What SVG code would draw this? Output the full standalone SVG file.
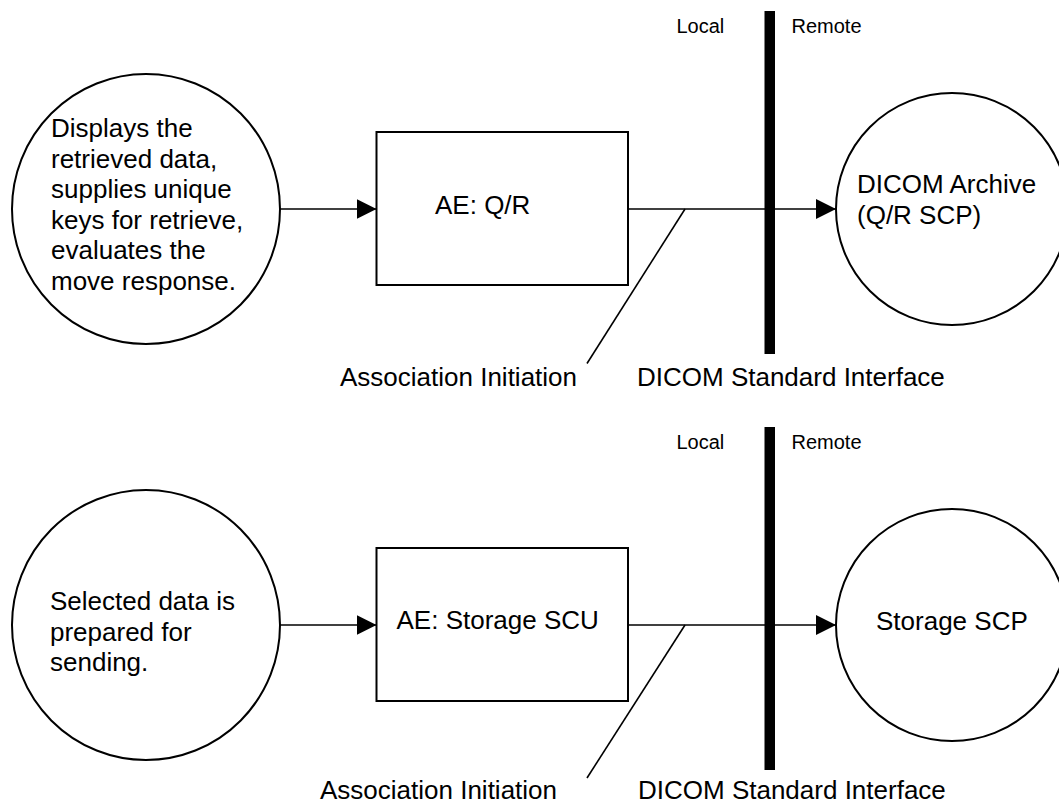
<svg xmlns="http://www.w3.org/2000/svg" width="1059" height="805" viewBox="0 0 1059 805">
  <style>
    .shape { fill: #ffffff; stroke: #000000; stroke-width: 2; }
    .conn { fill: none; stroke: #000000; stroke-width: 1.6; }
    .bar { fill: #000000; stroke: none; }
    .t { font-family: "Liberation Sans", Arial, sans-serif; font-size: 26px; fill: #000000; }
    .s { font-family: "Liberation Sans", Arial, sans-serif; font-size: 20px; fill: #000000; }
  </style>
  <defs>
    <marker id="arr" viewBox="0 0 20 20" markerWidth="20" markerHeight="20" refX="20" refY="10" orient="auto" markerUnits="userSpaceOnUse">
      <path d="M0,0 L20,10 L0,20 Z" fill="#000000"/>
    </marker>
  </defs>
  <rect x="0" y="0" width="1059" height="805" fill="#ffffff"/>

  <!-- Top diagram -->
  <g id="connectors-top">
    <line class="conn" x1="280" y1="209" x2="376.5" y2="209" marker-end="url(#arr)"/>
    <line class="conn" x1="628" y1="209" x2="836" y2="209" marker-end="url(#arr)"/>
    <line class="conn" x1="685" y1="209" x2="587" y2="363.5"/>
  </g>
  <g id="node-display">
    <ellipse class="shape" cx="146" cy="209" rx="134" ry="135"/>
    <text class="t" x="51" y="137">Displays the</text>
    <text class="t" x="51" y="167.5">retrieved data,</text>
    <text class="t" x="51" y="198">supplies unique</text>
    <text class="t" x="51" y="228.5">keys for retrieve,</text>
    <text class="t" x="51" y="259">evaluates the</text>
    <text class="t" x="51" y="289.5">move response.</text>
  </g>
  <g id="node-ae-qr">
    <rect class="shape" x="376.5" y="132" width="251.5" height="153"/>
    <text class="t" x="435" y="214">AE: Q/R</text>
  </g>
  <g id="node-archive">
    <circle class="shape" cx="952" cy="209" r="116"/>
    <text class="t" x="857" y="193">DICOM Archive</text>
    <text class="t" x="857" y="223.5">(Q/R SCP)</text>
  </g>
  <g id="interface-top">
    <rect class="bar" x="764.5" y="11" width="10.5" height="343"/>
    <text class="s" x="676.5" y="32.5">Local</text>
    <text class="s" x="791.5" y="32.5">Remote</text>
  </g>
  <g id="labels-top">
    <text class="t" x="340" y="386">Association Initiation</text>
    <text class="t" x="637" y="386">DICOM Standard Interface</text>
  </g>

  <!-- Bottom diagram -->
  <g id="connectors-bottom">
    <line class="conn" x1="280" y1="625" x2="376.5" y2="625" marker-end="url(#arr)"/>
    <line class="conn" x1="628" y1="625" x2="836" y2="625" marker-end="url(#arr)"/>
    <line class="conn" x1="685" y1="625" x2="587" y2="778"/>
  </g>
  <g id="node-selected">
    <ellipse class="shape" cx="146" cy="625" rx="134" ry="135"/>
    <text class="t" x="50" y="610">Selected data is</text>
    <text class="t" x="50" y="640.5">prepared for</text>
    <text class="t" x="50" y="671">sending.</text>
  </g>
  <g id="node-storage-scu">
    <rect class="shape" x="376.5" y="548" width="251.5" height="153"/>
    <text class="t" x="396.5" y="629">AE: Storage SCU</text>
  </g>
  <g id="node-storage-scp">
    <circle class="shape" cx="952" cy="625" r="116"/>
    <text class="t" x="876" y="630">Storage SCP</text>
  </g>
  <g id="interface-bottom">
    <rect class="bar" x="764.5" y="427" width="10.5" height="343"/>
    <text class="s" x="676.5" y="448.5">Local</text>
    <text class="s" x="791.5" y="448.5">Remote</text>
  </g>
  <g id="labels-bottom">
    <text class="t" x="320" y="799">Association Initiation</text>
    <text class="t" x="638" y="799">DICOM Standard Interface</text>
  </g>
</svg>
